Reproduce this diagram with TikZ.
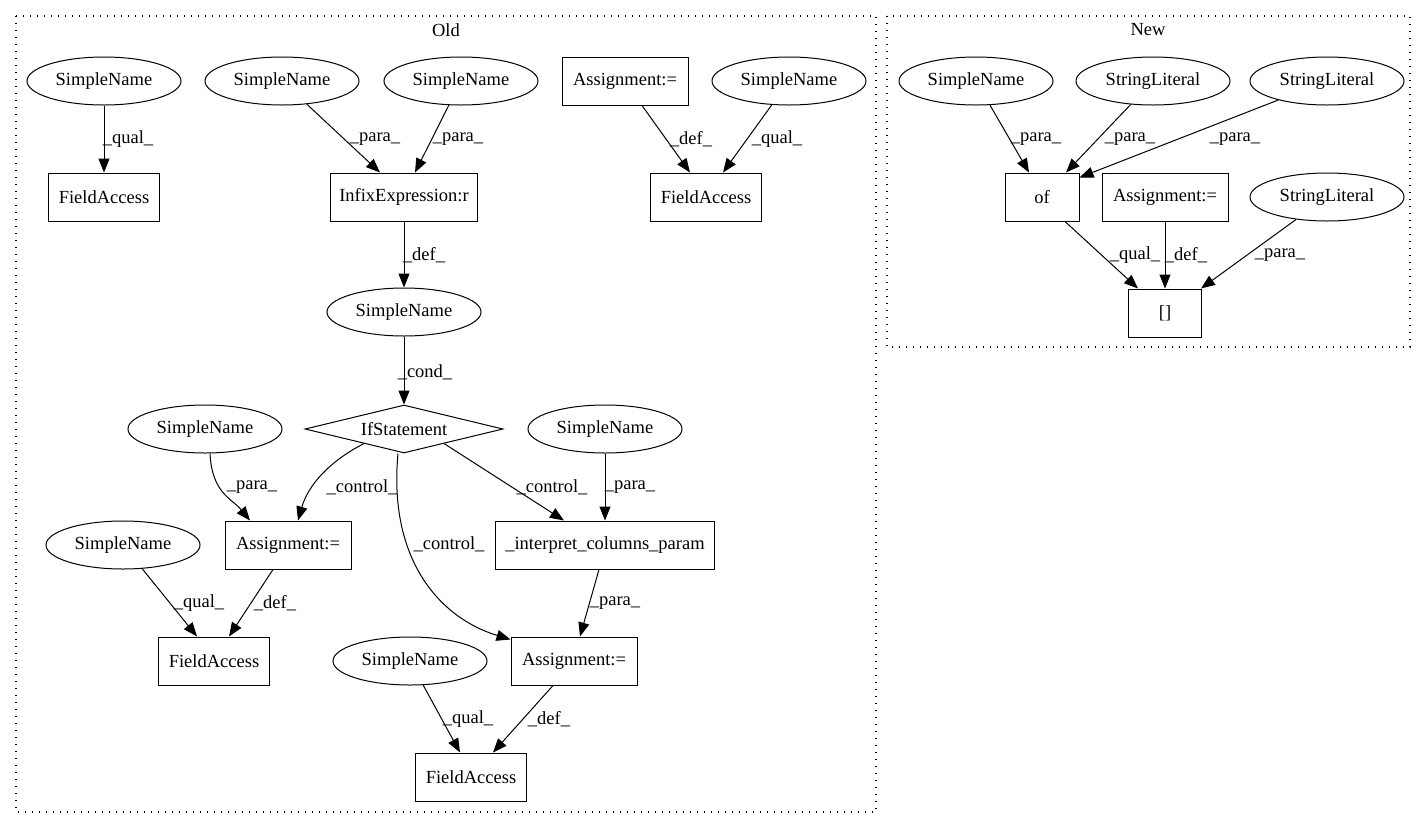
\documentclass[tikz,border=0pt]{standalone}
\usepackage{fontspec}
\setmainfont{Liberation Serif}
\usetikzlibrary{shapes.geometric,arrows.meta}
\begin{document}
\begin{tikzpicture}[x=1pt,y=-1pt,
  every node/.style={font=\fontsize{18.5}{22}\selectfont},
  ell/.style={draw,ellipse,line width=1pt,minimum width=154,minimum height=48,inner sep=0},
  box/.style={draw,rectangle,line width=1pt,minimum height=48,inner sep=0},
  dia/.style={draw,diamond,aspect=4.1,line width=1pt,minimum width=198,minimum height=48,inner sep=0},
  arr/.style={line width=1pt,-{Triangle[length=14pt,width=11pt]}},
  lab/.style={inner sep=0},
  clus/.style={line width=1.3pt,dash pattern=on 1.4pt off 5.6pt}]
\useasboundingbox (0,0) rectangle (1427,828);
% clusters
\draw[clus] (16,16) rectangle (876,812);
\node[lab] (told) at (446,30) {Old};
\draw[clus] (887,16) rectangle (1410,347);
\node[lab] (tnew) at (1148,30) {New};
% Old nodes
\node[ell] (sn1) at (104,81) {SimpleName};
\node[box,minimum width=111] (fa1) at (104,197) {FieldAccess};
\node[ell] (sn2) at (282,81) {SimpleName};
\node[ell] (sn3) at (461,81) {SimpleName};
\node[box,minimum width=147] (inf) at (404,197) {InfixExpression:r};
\node[box,minimum width=126] (as1) at (625,81) {Assignment:=};
\node[ell] (sn4) at (789,81) {SimpleName};
\node[box,minimum width=111] (fa2) at (706,197) {FieldAccess};
\node[ell] (sn5) at (404,312) {SimpleName};
\node[dia] (ifs) at (404,429) {IfStatement};
\node[ell] (sn6) at (205,429) {SimpleName};
\node[ell] (sn7) at (605,429) {SimpleName};
\node[box,minimum width=126] (as2) at (288,545) {Assignment:=};
\node[box,minimum width=219] (itp) at (605,545) {\_interpret\_columns\_param};
\node[ell] (sn8) at (123,545) {SimpleName};
\node[box,minimum width=111] (fa3) at (214,661) {FieldAccess};
\node[ell] (sn9) at (410,661) {SimpleName};
\node[box,minimum width=126] (as3) at (574,661) {Assignment:=};
\node[box,minimum width=111] (fa4) at (471,777) {FieldAccess};
% New nodes
\node[ell] (nsn) at (976,81) {SimpleName};
\node[ell] (sl1) at (1153,81) {StringLiteral};
\node[ell] (sl2) at (1327,81) {StringLiteral};
\node[box,minimum width=74] (of) at (1042,197) {of};
\node[box,minimum width=126] (nas) at (1165,197) {Assignment:=};
\node[ell] (sl3) at (1327,197) {StringLiteral};
\node[box,minimum width=73] (br) at (1165,313) {[]};
% Old edges
\draw[arr] (sn1) -- (fa1);
\node[lab] at (128,139) {\_qual\_};
\draw[arr] (sn2) -- ([xshift=-24]inf.north);
\node[lab] at (375,139) {\_para\_};
\draw[arr] (sn3) -- ([xshift=11]inf.north);
\node[lab] at (458,139) {\_para\_};
\draw[arr] ([xshift=17]as1.south) -- ([xshift=-16]fa2.north);
\node[lab] at (691,139) {\_def\_};
\draw[arr] (sn4) -- ([xshift=17]fa2.north);
\node[lab] at (777,139) {\_qual\_};
\draw[arr] (inf) -- (sn5);
\node[lab] at (424,255) {\_def\_};
\draw[arr] (sn5) -- (ifs);
\node[lab] at (425,372) {\_cond\_};
\draw[arr] ([xshift=5]sn6.south) .. controls +(2,40) and +(-18,-22) .. ([xshift=-38]as2.north);
\node[lab] at (252,487) {\_para\_};
\draw[arr] (ifs.-160) .. controls +(-35,18) and +(10,-35) .. ([xshift=10]as2.north);
\node[lab] at (362,487) {\_control\_};
\draw[arr] ([xshift=-6]ifs.south) .. controls (388,560) and (440,618) .. ([yshift=-3]as3.north west);
\node[lab] at (449,544) {\_control\_};
\draw[arr] (ifs.-20) -- ([xshift=-41]itp.north);
\node[lab] at (552,487) {\_control\_};
\draw[arr] (sn7) -- (itp);
\node[lab] at (630,487) {\_para\_};
\draw[arr] (sn8) -- ([xshift=-17]fa3.north);
\node[lab] at (199,603) {\_qual\_};
\draw[arr] ([xshift=-15]as2.south) -- ([xshift=15]fa3.north);
\node[lab] at (275,603) {\_def\_};
\draw[arr] ([xshift=-6]itp.south) -- ([xshift=6]as3.north);
\node[lab] at (615,603) {\_para\_};
\draw[arr] (sn9) -- ([xshift=-11]fa4.north);
\node[lab] at (468,719) {\_qual\_};
\draw[arr] ([xshift=-21]as3.south) -- ([xshift=22]fa4.north);
\node[lab] at (549,719) {\_def\_};
% New edges
\draw[arr] (nsn) -- ([xshift=-13]of.north);
\node[lab] at (1036,139) {\_para\_};
\draw[arr] (sl1) -- ([xshift=24]of.north);
\node[lab] at (1130,139) {\_para\_};
\draw[arr] (sl2) -- ([yshift=-5]of.north east);
\node[lab] at (1235,139) {\_para\_};
\draw[arr] ([xshift=23]of.south) -- ([xshift=-27]br.north);
\node[lab] at (1135,255) {\_qual\_};
\draw[arr] (nas) -- (br);
\node[lab] at (1186,255) {\_def\_};
\draw[arr] (sl3) -- ([xshift=-1]br.north east);
\node[lab] at (1280,255) {\_para\_};
\end{tikzpicture}
\end{document}
